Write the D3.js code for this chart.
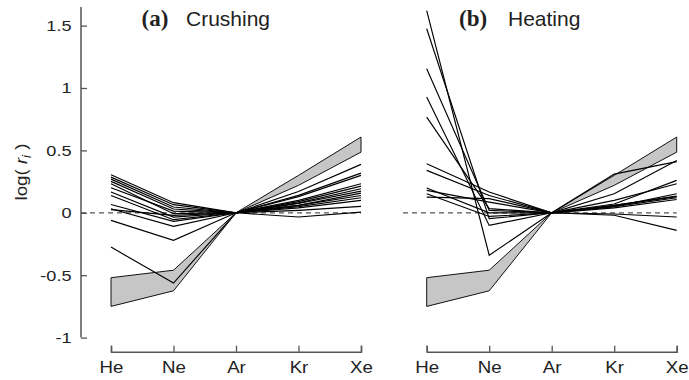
<!DOCTYPE html>
<html>
<head>
<meta charset="utf-8">
<script src="https://cdn.jsdelivr.net/npm/d3@7"></script>
<style>
  html, body { margin: 0; padding: 0; background: #fff; }
  svg { display: block; }
</style>
</head>
<body>
<svg id="chart" width="689" height="380"></svg>
<script>
// ---------------- data ----------------
const elements = ["He", "Ne", "Ar", "Kr", "Xe"];
const yTicks = [-1, -0.5, 0, 0.5, 1, 1.5];

// log(r_i) for each sample, ordered He, Ne, Ar, Kr, Xe
const crushingSeries = [
  [0.305, 0.081, 0, 0.17, 0.388],
  [0.286, 0.065, 0, 0.14, 0.318],
  [0.270, 0.046, 0, 0.13, 0.300],
  [0.252, 0.030, 0, 0.10, 0.233],
  [0.233, -0.007, 0, 0.09, 0.214],
  [0.201, 0.014, 0, 0.08, 0.193],
  [0.166, -0.034, 0, 0.075, 0.174],
  [0.139, -0.055, 0, 0.06, 0.158],
  [0.067, -0.069, 0, 0.06, 0.139],
  [0.033, -0.109, 0, 0.05, 0.121],
  [0.025, -0.021, 0, 0.04, 0.099],
  [-0.061, -0.221, 0, -0.034, 0.005],
  [-0.275, -0.563, 0, 0.02, 0.051]
];

const heatingSeries = [
  [1.62, -0.34, 0, 0.05, 0.121],
  [1.475, -0.047, 0, -0.02, -0.141],
  [1.155, 0.019, 0, 0.06, 0.134],
  [0.927, -0.101, 0, 0.07, 0.26],
  [0.767, 0.033, 0, 0.10, 0.233],
  [0.393, 0.166, 0, 0.153, 0.42],
  [0.34, 0.139, 0, 0.31, 0.41],
  [0.198, 0.0, 0, 0.05, 0.153],
  [0.18, 0.086, 0, 0.04, 0.107],
  [0.153, -0.029, 0, -0.01, -0.034],
  [0.126, 0.113, 0, 0.06, 0.13]
];

// grey reference band (upper and lower bounds)
const bandUpper = [-0.52, -0.46, 0, 0.30, 0.607];
const bandLower = [-0.75, -0.625, 0, 0.22, 0.486];

const panels = [
  { tag: "(a)", name: "Crushing", series: crushingSeries },
  { tag: "(b)", name: "Heating", series: heatingSeries }
];

// ---------------- layout ----------------
const svg = d3.select("#chart");
const axisColor = "#555";
const textColor = "#222";
const sans = "'Liberation Sans', Arial, Helvetica, sans-serif";
const serif = "'Liberation Serif', 'Times New Roman', serif";
const stretch = 1.17; // tick labels are horizontally wide in the original

const y = d3.scaleLinear().domain([-1, 1.5]).range([337.6, 25.6]);
const yTop = 1.65;
const xAxisY = 351.7;

const panelLayout = [
  { x0: 111, x1: 361, dashStart: 81, titleTag: 141.5, titleName: 186 },
  { x0: 426.7, x1: 676.7, dashStart: 403, titleTag: 459, titleName: 508 }
];

// y axis (left panel only)
const yAxisX = 81;
const yAxisG = svg.append("g").attr("transform", `translate(${yAxisX},0)`);
yAxisG.call(d3.axisLeft(y).tickValues(yTicks).tickFormat(d => String(d))
  .tickSizeInner(-6).tickSizeOuter(0).tickPadding(9));
yAxisG.select(".domain").remove();
yAxisG.selectAll(".tick line").attr("stroke", axisColor).attr("stroke-width", 1.3);
yAxisG.selectAll(".tick text").attr("fill", textColor)
  .style("font-family", sans).style("font-size", "15.5px")
  .attr("x", -9.5 / stretch)
  .attr("transform", `scale(${stretch},1)`);
yAxisG.append("line")
  .attr("x1", 0).attr("x2", 0)
  .attr("y1", y(yTop)).attr("y2", y(-1))
  .attr("stroke", axisColor).attr("stroke-width", 1.5);

// y axis label: log( r_i )
const yl = svg.append("text")
  .attr("transform", `translate(27,172) rotate(-90) scale(1.1,1)`)
  .attr("text-anchor", "middle")
  .attr("fill", textColor)
  .style("font-family", sans).style("font-size", "17px");
yl.append("tspan").text("log( ");
yl.append("tspan").style("font-style", "italic").text("r");
yl.append("tspan").style("font-style", "italic").style("font-size", "12px")
  .attr("dy", "4").text("i");
yl.append("tspan").attr("dy", "-4").text(" )");

panels.forEach((p, i) => {
  const L = panelLayout[i];
  const x = d3.scalePoint().domain(elements).range([L.x0, L.x1]);
  const g = svg.append("g");

  // dashed zero line
  g.append("line")
    .attr("x1", L.dashStart).attr("x2", L.x1)
    .attr("y1", y(0)).attr("y2", y(0))
    .attr("stroke", axisColor).attr("stroke-width", 1.3)
    .attr("stroke-dasharray", "5,4");

  // grey band
  const bandPts = elements.map((e, k) => [x(e), y(bandUpper[k])])
    .concat(elements.slice().reverse().map((e, k) => [x(e), y(bandLower[elements.length - 1 - k])]));
  g.append("path")
    .attr("d", d3.line()(bandPts) + "Z")
    .attr("fill", "#c6c6c6")
    .attr("stroke", "#111")
    .attr("stroke-width", 1)
    .attr("stroke-linejoin", "round");

  // lines
  const line = d3.line().x((d, k) => x(elements[k])).y(d => y(d));
  g.selectAll("path.series").data(p.series).enter().append("path")
    .attr("class", "series")
    .attr("d", d => line(d))
    .attr("fill", "none")
    .attr("stroke", "#000")
    .attr("stroke-width", 1.15)
    .attr("stroke-linejoin", "miter");

  // x axis
  const xg = g.append("g").attr("transform", `translate(0,${xAxisY})`);
  xg.call(d3.axisBottom(x).tickSizeInner(-6).tickSizeOuter(-6).tickPadding(10));
  xg.select(".domain").attr("stroke", axisColor).attr("stroke-width", 1.5);
  xg.selectAll(".tick line").attr("stroke", axisColor).attr("stroke-width", 1.3);
  xg.selectAll(".tick text").attr("fill", textColor)
    .style("font-family", sans).style("font-size", "16px")
    .attr("transform", `scale(${stretch},1)`);

  // title
  g.append("text")
    .attr("x", L.titleTag).attr("y", 26)
    .attr("fill", textColor)
    .style("font-family", serif).style("font-weight", "bold").style("font-size", "23px")
    .text(p.tag);
  g.append("text")
    .attr("x", L.titleName).attr("y", 26)
    .attr("fill", textColor)
    .style("font-family", sans).style("font-size", "21px")
    .text(p.name);
});
</script>
</body>
</html>
